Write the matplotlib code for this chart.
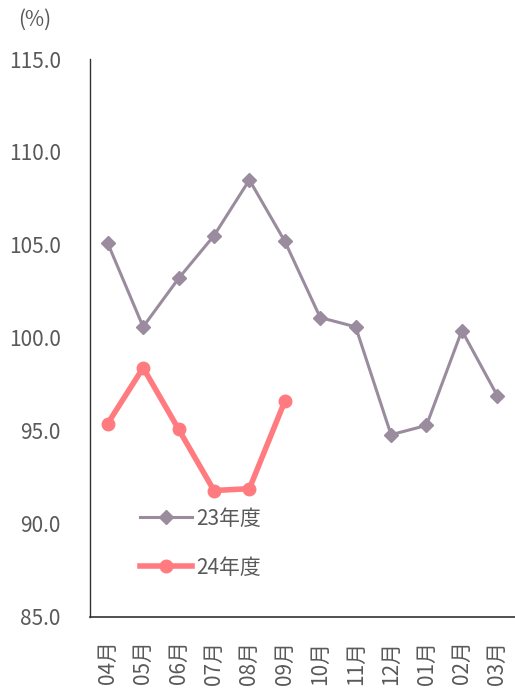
import matplotlib.pyplot as plt

plt.rcParams['font.family'] = ['Noto Sans CJK JP', 'DejaVu Sans']

months = ["04月", "05月", "06月", "07月", "08月", "09月",
          "10月", "11月", "12月", "01月", "02月", "03月"]
fy23 = [105.1, 100.6, 103.2, 105.5, 108.5, 105.2,
        101.1, 100.6, 94.8, 95.3, 100.4, 96.9]
fy24 = [95.4, 98.4, 95.1, 91.8, 91.9, 96.6]

c23 = "#9A8C9E"
c24 = "#FF7B7F"
txt = "#595959"

fig = plt.figure(figsize=(5.15, 6.9), dpi=100)
ax = fig.add_axes([90/515, 73/690, 425/515, 558/690])

x23 = list(range(len(fy23)))
x24 = list(range(len(fy24)))
ax.plot(x23, fy23, color=c23, lw=2.2, marker="D", ms=7.5, label="23年度")
ax.plot(x24, fy24, color=c24, lw=4, marker="o", ms=9, label="24年度")

ax.set_xlim(-0.5, 11.5)
ax.set_ylim(85, 115)
yt = [85, 90, 95, 100, 105, 110, 115]
ax.set_yticks(yt)
ax.set_yticklabels([f"{v:.1f}" for v in yt])
ax.set_xticks(x23)
ax.set_xticklabels(months, rotation=90)
ax.tick_params(axis="both", length=0, colors=txt, labelsize=15)
ax.tick_params(axis="y", pad=21)
ax.tick_params(axis="x", pad=17)

for s in ["top", "right"]:
    ax.spines[s].set_visible(False)
ax.spines["left"].set_color("#333333")
ax.spines["bottom"].set_color("#333333")
ax.spines["left"].set_linewidth(1.0)
ax.spines["bottom"].set_linewidth(1.2)

fig.text(18/515, 1 - 20/690, "(%)", color=txt, fontsize=15, va="center", ha="left")

ax.legend(loc="lower left", bbox_to_anchor=(0.073, 0.035), frameon=False,
          fontsize=15, labelcolor=txt, handlelength=2.5,
          handletextpad=0.2, labelspacing=1.3)

fig.savefig("out.png", dpi=100)
